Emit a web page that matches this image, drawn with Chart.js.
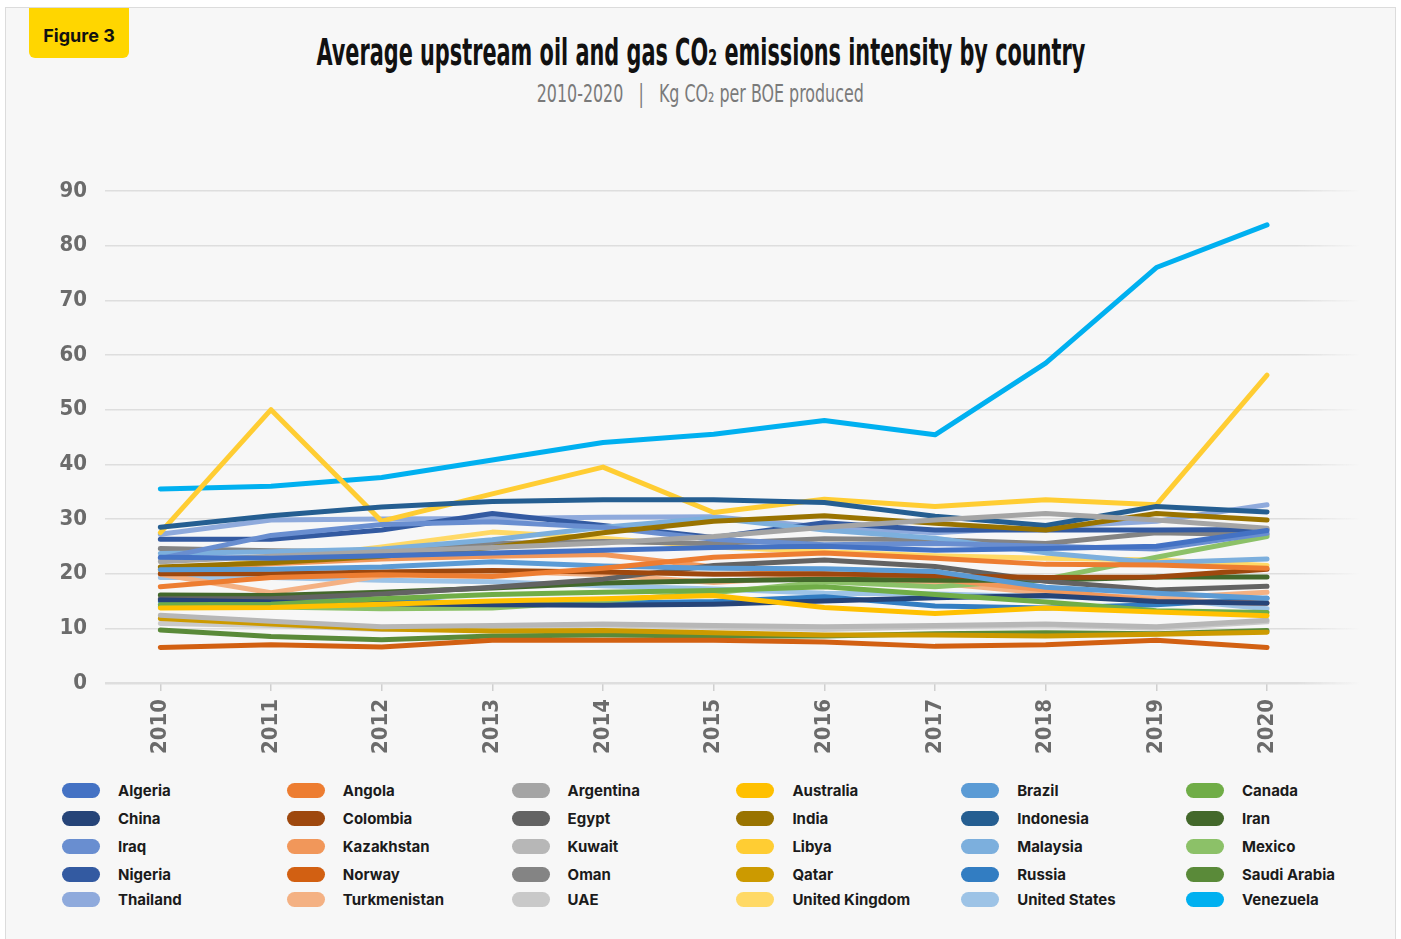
<!DOCTYPE html>
<html>
<head>
<meta charset="utf-8">
<title>Average upstream oil and gas CO₂ emissions intensity by country</title>
<script src="https://cdn.jsdelivr.net/npm/chart.js@4.4.1/dist/chart.umd.min.js"></script>
<style>
  body { margin: 0; background: #fff; width: 1401px; height: 939px; overflow: hidden; }
  .card { position: absolute; left: 5px; top: 7px; width: 1391px; height: 945px; background: #f7f7f7; border: 1px solid #dcdcdc; box-sizing: border-box; }
  .badge { position: absolute; left: 29px; top: 8px; width: 100px; height: 50px; background: #ffd600; border-radius: 0 0 6px 6px;
           display: flex; align-items: center; justify-content: center; box-sizing: border-box; padding-top: 4px;
           font: 700 18px Inter, Roboto, sans-serif; color: #111; }
  .title, .subtitle { position: absolute; left: 0; width: 1401px; text-align: center; white-space: nowrap; }
  .title { top: 33px; font: 700 38px/38px "Liberation Sans Narrow", "DejaVu Sans Condensed", sans-serif; color: #111; }
  .subtitle { top: 82px; font: 400 24px/24px "Liberation Sans Narrow", "DejaVu Sans Condensed", sans-serif; color: #7a7a7a; }
  .title span, .subtitle span { display: inline-block; transform-origin: center; }
  #wrap { position: absolute; left: 40px; top: 170px; width: 1330px; height: 590px; }
  .legend { position: absolute; left: 62px; top: 776px; display: grid; grid-template-columns: repeat(6, 224.8px);
            grid-template-rows: 28px 28px 28px 28px 22px; font: 700 15px Inter, Roboto, sans-serif; color: #1b1b1b; }
  .item { display: flex; align-items: center; white-space: nowrap; }
  .sw { width: 38px; height: 15px; border-radius: 8px; margin-right: 18px; flex: none; }
</style>
</head>
<body>
<div class="card"></div>
<div class="badge">Figure 3</div>
<div class="title"><span id="title">Average upstream oil and gas CO₂ emissions intensity by country</span></div>
<div class="subtitle"><span id="subtitle">2010-2020 &nbsp;&nbsp;|&nbsp;&nbsp; Kg CO₂ per BOE produced</span></div>
<div id="wrap"><canvas id="chart"></canvas></div>
<div class="legend" id="legend"></div>
<script>
// Data (Kg CO2 per BOE)
const years = [2010, 2011, 2012, 2013, 2014, 2015, 2016, 2017, 2018, 2019, 2020];
const yTicks = [0, 10, 20, 30, 40, 50, 60, 70, 80, 90];

const algeria      = [23.0, 22.8, 23.3, 23.8, 24.3, 24.8, 25.0, 24.3, 24.6, 25.0, 27.9];
const angola       = [17.6, 19.3, 19.8, 19.5, 21.0, 23.0, 23.8, 22.8, 21.7, 21.6, 21.0];
const argentina    = [22.2, 23.2, 24.0, 24.8, 25.6, 26.8, 28.5, 29.8, 31.0, 29.8, 28.3];
const australia    = [13.7, 13.8, 14.4, 15.0, 15.4, 16.0, 13.8, 12.7, 13.7, 13.0, 12.3];
const brazil       = [20.7, 20.8, 21.2, 22.2, 21.4, 21.0, 20.9, 20.4, 17.5, 16.4, 15.5];
const canada       = [14.3, 14.4, 15.4, 16.2, 16.6, 16.9, 17.6, 16.2, 14.8, 13.2, 12.9];
const china        = [15.2, 14.8, 14.5, 14.3, 14.2, 14.4, 15.0, 15.6, 16.0, 14.9, 14.6];
const colombia     = [20.0, 20.0, 20.3, 20.6, 20.3, 19.9, 20.0, 19.6, 19.3, 19.4, 20.8];
const egypt        = [15.4, 15.4, 16.3, 17.5, 19.0, 21.5, 22.5, 21.3, 18.6, 17.0, 17.7];
const india        = [21.2, 22.0, 23.2, 24.8, 27.5, 29.6, 30.6, 29.2, 28.0, 31.0, 29.8];
const indonesia    = [28.5, 30.6, 32.2, 33.2, 33.5, 33.5, 33.0, 30.5, 28.8, 32.3, 31.3];
const iran         = [16.1, 16.0, 16.6, 17.4, 18.3, 18.7, 19.0, 18.8, 18.8, 19.4, 19.4];
const iraq         = [22.8, 27.0, 29.0, 29.5, 28.5, 26.3, 25.3, 25.5, 25.0, 24.5, 27.4];
const kazakhstan   = [20.8, 21.8, 22.7, 23.2, 23.5, 21.2, 20.0, 19.0, 17.0, 15.0, 14.6];
const kuwait       = [12.4, 11.3, 10.3, 10.5, 10.8, 10.5, 10.3, 10.5, 10.8, 10.3, 11.5];
const libya        = [27.5, 50.0, 29.6, 34.6, 39.5, 31.2, 33.6, 32.3, 33.5, 32.6, 56.3];
const malaysia     = [23.7, 24.0, 24.5, 26.2, 28.5, 30.2, 28.0, 26.5, 23.8, 22.0, 22.7];
const mexico       = [14.0, 13.9, 13.6, 13.7, 15.0, 16.5, 18.5, 17.6, 19.0, 23.0, 26.8];
const nigeria      = [26.3, 26.3, 28.0, 31.0, 28.8, 26.6, 29.3, 28.0, 28.0, 28.0, 28.1];
const norway       = [6.5, 7.0, 6.6, 7.8, 7.8, 7.8, 7.5, 6.7, 7.0, 7.8, 6.5];
const oman         = [24.6, 24.2, 24.0, 25.5, 25.9, 25.5, 26.4, 26.2, 25.5, 27.5, 27.1];
const qatar        = [11.8, 10.8, 9.9, 9.5, 9.6, 9.2, 8.8, 8.8, 8.6, 8.9, 9.3];
const russia       = [14.9, 15.0, 15.3, 14.3, 14.6, 14.9, 15.8, 14.1, 13.7, 14.3, 15.5];
const saudiArabia  = [9.7, 8.5, 7.9, 8.6, 8.8, 8.6, 8.6, 9.0, 9.2, 9.0, 9.6];
const thailand     = [27.2, 29.8, 30.0, 30.1, 30.3, 30.4, 28.5, 27.5, 28.6, 29.6, 32.6];
const turkmenistan = [19.9, 16.5, 19.6, 20.5, 19.8, 18.4, 19.6, 18.3, 16.4, 15.5, 16.6];
const uae          = [10.9, 10.5, 9.8, 10.2, 10.6, 10.2, 9.8, 10.3, 10.6, 10.0, 11.2];
const uk           = [20.4, 22.5, 24.9, 27.6, 26.5, 24.9, 24.0, 23.3, 22.8, 22.5, 21.5];
const us           = [19.3, 19.3, 18.8, 18.5, 17.8, 17.2, 16.4, 16.3, 15.8, 15.5, 13.6];
const venezuela    = [35.5, 36.0, 37.6, 40.8, 44.0, 45.5, 48.0, 45.4, 58.5, 76.0, 83.8];

const countries = ['Algeria', 'Angola', 'Argentina', 'Australia', 'Brazil', 'Canada',
  'China', 'Colombia', 'Egypt', 'India', 'Indonesia', 'Iran',
  'Iraq', 'Kazakhstan', 'Kuwait', 'Libya', 'Malaysia', 'Mexico',
  'Nigeria', 'Norway', 'Oman', 'Qatar', 'Russia', 'Saudi Arabia',
  'Thailand', 'Turkmenistan', 'UAE', 'United Kingdom', 'United States', 'Venezuela'];
const series = [algeria, angola, argentina, australia, brazil, canada,
  china, colombia, egypt, india, indonesia, iran,
  iraq, kazakhstan, kuwait, libya, malaysia, mexico,
  nigeria, norway, oman, qatar, russia, saudiArabia,
  thailand, turkmenistan, uae, uk, us, venezuela];
const colors = ['#4472C4', '#ED7D31', '#A5A5A5', '#FFC000', '#5B9BD5', '#70AD47',
  '#264478', '#9E480E', '#636363', '#997300', '#255E91', '#43682B',
  '#698ED0', '#F1975A', '#B7B7B7', '#FFCD33', '#7CAFDD', '#8CC168',
  '#335AA1', '#D26012', '#848484', '#CC9A00', '#327DC2', '#5A8A39',
  '#8FAADC', '#F4B183', '#C9C9C9', '#FFD966', '#9DC3E6', '#00B0F0'];

// squeeze the condensed headings to the reference width
function fitText(id, width) {
  const el = document.getElementById(id);
  const w = el.getBoundingClientRect().width;
  el.style.transform = `scaleX(${width / w})`;
}
fitText('title', 769);
fitText('subtitle', 327);

// Legend
const legend = document.getElementById('legend');
countries.forEach((name, i) => {
  const item = document.createElement('div');
  item.className = 'item';
  item.innerHTML = `<span class="sw" style="background:${colors[i]}"></span>${name}`;
  legend.appendChild(item);
});

const tickFont = { family: '"Liberation Sans Narrow", "DejaVu Sans Condensed", sans-serif', weight: 'bold', size: 22 };

function gridColor(ctx) {
  const area = ctx.chart.chartArea;
  if (!area) return '#dedede';
  const g = ctx.chart.ctx.createLinearGradient(area.left, 0, area.right, 0);
  g.addColorStop(0, '#dedede');
  g.addColorStop(0.95, '#dedede');
  g.addColorStop(1, 'rgba(222,222,222,0)');
  return g;
}

new Chart(document.getElementById('chart'), {
  type: 'line',
  data: {
    datasets: countries.map((name, i) => ({
      label: name,
      data: series[i].map((v, j) => ({ x: years[j], y: v })),
      borderColor: colors[i],
      backgroundColor: colors[i],
      borderWidth: 5,
      pointRadius: 0,
      borderCapStyle: 'round',
      borderJoinStyle: 'round',
      tension: 0
    }))
  },
  options: {
    responsive: true,
    maintainAspectRatio: false,
    animation: false,
    layout: { padding: { top: 21, right: 10, left: 0, bottom: 0 } },
    plugins: { legend: { display: false }, tooltip: { enabled: false } },
    scales: {
      x: {
        type: 'linear',
        min: 2009.5,
        max: 2020.84,
        afterBuildTicks: scale => { scale.ticks = years.map(v => ({ value: v })); },
        afterFit: scale => { scale.height = 77; scale.paddingLeft = 0; scale.paddingRight = 0; },
        ticks: {
          autoSkip: false, minRotation: 90, maxRotation: 90, padding: 8,
          color: '#6b6b6b', font: tickFont,
          callback: v => String(v)
        },
        grid: { drawOnChartArea: false, drawTicks: true, tickLength: 8, color: '#cfcfcf', lineWidth: 1.5 },
        border: { display: false }
      },
      y: {
        min: 0,
        max: 90,
        afterBuildTicks: scale => { scale.ticks = yTicks.map(v => ({ value: v })); },
        afterFit: scale => { scale.width = 65; scale.paddingTop = 0; scale.paddingBottom = 0; },
        ticks: { padding: 18, color: '#6b6b6b', font: tickFont },
        grid: {
          color: gridColor,
          lineWidth: ctx => (ctx.tick && ctx.tick.value === 0 ? 2.5 : 1.5),
          drawTicks: false
        },
        border: { display: false }
      }
    }
  }
});
</script>
</body>
</html>
